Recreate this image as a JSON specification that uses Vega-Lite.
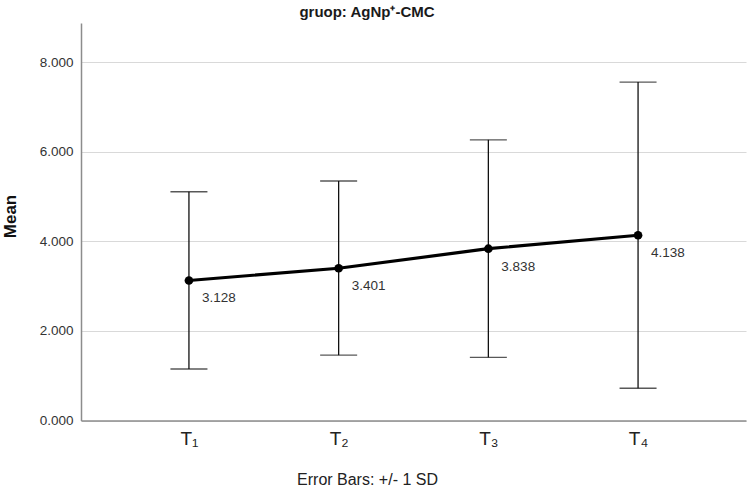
{
  "$schema": "https://vega.github.io/schema/vega-lite/v6.json",
  "width": 665,
  "height": 397.5,
  "autosize": {"type": "none"},
  "padding": {"left": 81, "top": 23, "right": 2, "bottom": 65.5},
  "background": "white",
  "title": {
    "text": "gruop: AgNp⁺-CMC",
    "fontSize": 15,
    "fontWeight": "bold",
    "font": "Liberation Sans",
    "color": "#1a1a1a",
    "anchor": "middle",
    "frame": "group",
    "dx": -46.5,
    "dy": 15,
    "baseline": "alphabetic",
    "offset": 6
  },
  "data": {
    "values": [
      {"time": "T₁", "mean": 3.128, "lower": 1.15, "upper": 5.11, "label": "3.128"},
      {"time": "T₂", "mean": 3.401, "lower": 1.46, "upper": 5.35, "label": "3.401"},
      {"time": "T₃", "mean": 3.838, "lower": 1.41, "upper": 6.27, "label": "3.838"},
      {"time": "T₄", "mean": 4.138, "lower": 0.72, "upper": 7.56, "label": "4.138"}
    ]
  },
  "encoding": {
    "x": {
      "field": "time",
      "type": "ordinal",
      "sort": null,
      "scale": {"type": "point", "padding": 0.721},
      "axis": {
        "title": "Error Bars: +/- 1 SD",
        "titleFont": "Liberation Sans Narrow, Liberation Sans",
        "titleFontSize": 16,
        "titleFontWeight": "normal",
        "titleColor": "#222",
        "titleX": 286,
        "titleY": 63.5,
        "titleAlign": "center",
        "titleBaseline": "alphabetic",
        "labelAngle": 0,
        "labelFont": "Liberation Sans Narrow, Liberation Sans",
        "labelFontSize": 19,
        "labelColor": "#222",
        "labelPadding": 9,
        "ticks": false,
        "grid": false,
        "domainColor": "#8c8c8c",
        "domainWidth": 1.5
      }
    }
  },
  "layer": [
    {
      "mark": {"type": "rule", "color": "#111", "strokeWidth": 1.3},
      "encoding": {
        "y": {
          "field": "lower",
          "type": "quantitative",
          "scale": {"domain": [0, 8.88], "nice": false},
          "axis": {
            "title": "Mean",
            "titleFontSize": 17,
            "titleFontWeight": "bold",
            "titleFont": "Liberation Sans",
            "titleColor": "#111",
            "titleAngle": 270,
            "titleX": -66,
            "titleY": 193,
            "titleAlign": "center",
            "titleBaseline": "alphabetic",
            "values": [0, 2, 4, 6, 8],
            "format": ".3f",
            "labelFontSize": 13.5,
            "labelFont": "Liberation Sans",
            "labelColor": "#333",
            "labelPadding": 8,
            "ticks": false,
            "grid": true,
            "gridColor": "#d9d9d9",
            "gridWidth": 1.2,
            "domainColor": "#8c8c8c",
            "domainWidth": 1.5
          }
        },
        "y2": {"field": "upper"}
      }
    },
    {
      "mark": {"type": "tick", "color": "#111", "thickness": 1.3, "size": 37, "orient": "horizontal"},
      "encoding": {"y": {"field": "upper", "type": "quantitative"}}
    },
    {
      "mark": {"type": "tick", "color": "#111", "thickness": 1.3, "size": 37, "orient": "horizontal"},
      "encoding": {"y": {"field": "lower", "type": "quantitative"}}
    },
    {
      "mark": {"type": "line", "color": "#000", "strokeWidth": 3.2},
      "encoding": {"y": {"field": "mean", "type": "quantitative"}}
    },
    {
      "mark": {"type": "point", "filled": true, "color": "#000", "size": 75, "opacity": 1},
      "encoding": {"y": {"field": "mean", "type": "quantitative"}}
    },
    {
      "mark": {"type": "text", "align": "left", "baseline": "middle", "dx": 13, "dy": 18, "fontSize": 13.5, "font": "Liberation Sans", "color": "#333"},
      "encoding": {
        "y": {"field": "mean", "type": "quantitative"},
        "text": {"field": "label"}
      }
    }
  ],
  "config": {"view": {"stroke": null}}
}
